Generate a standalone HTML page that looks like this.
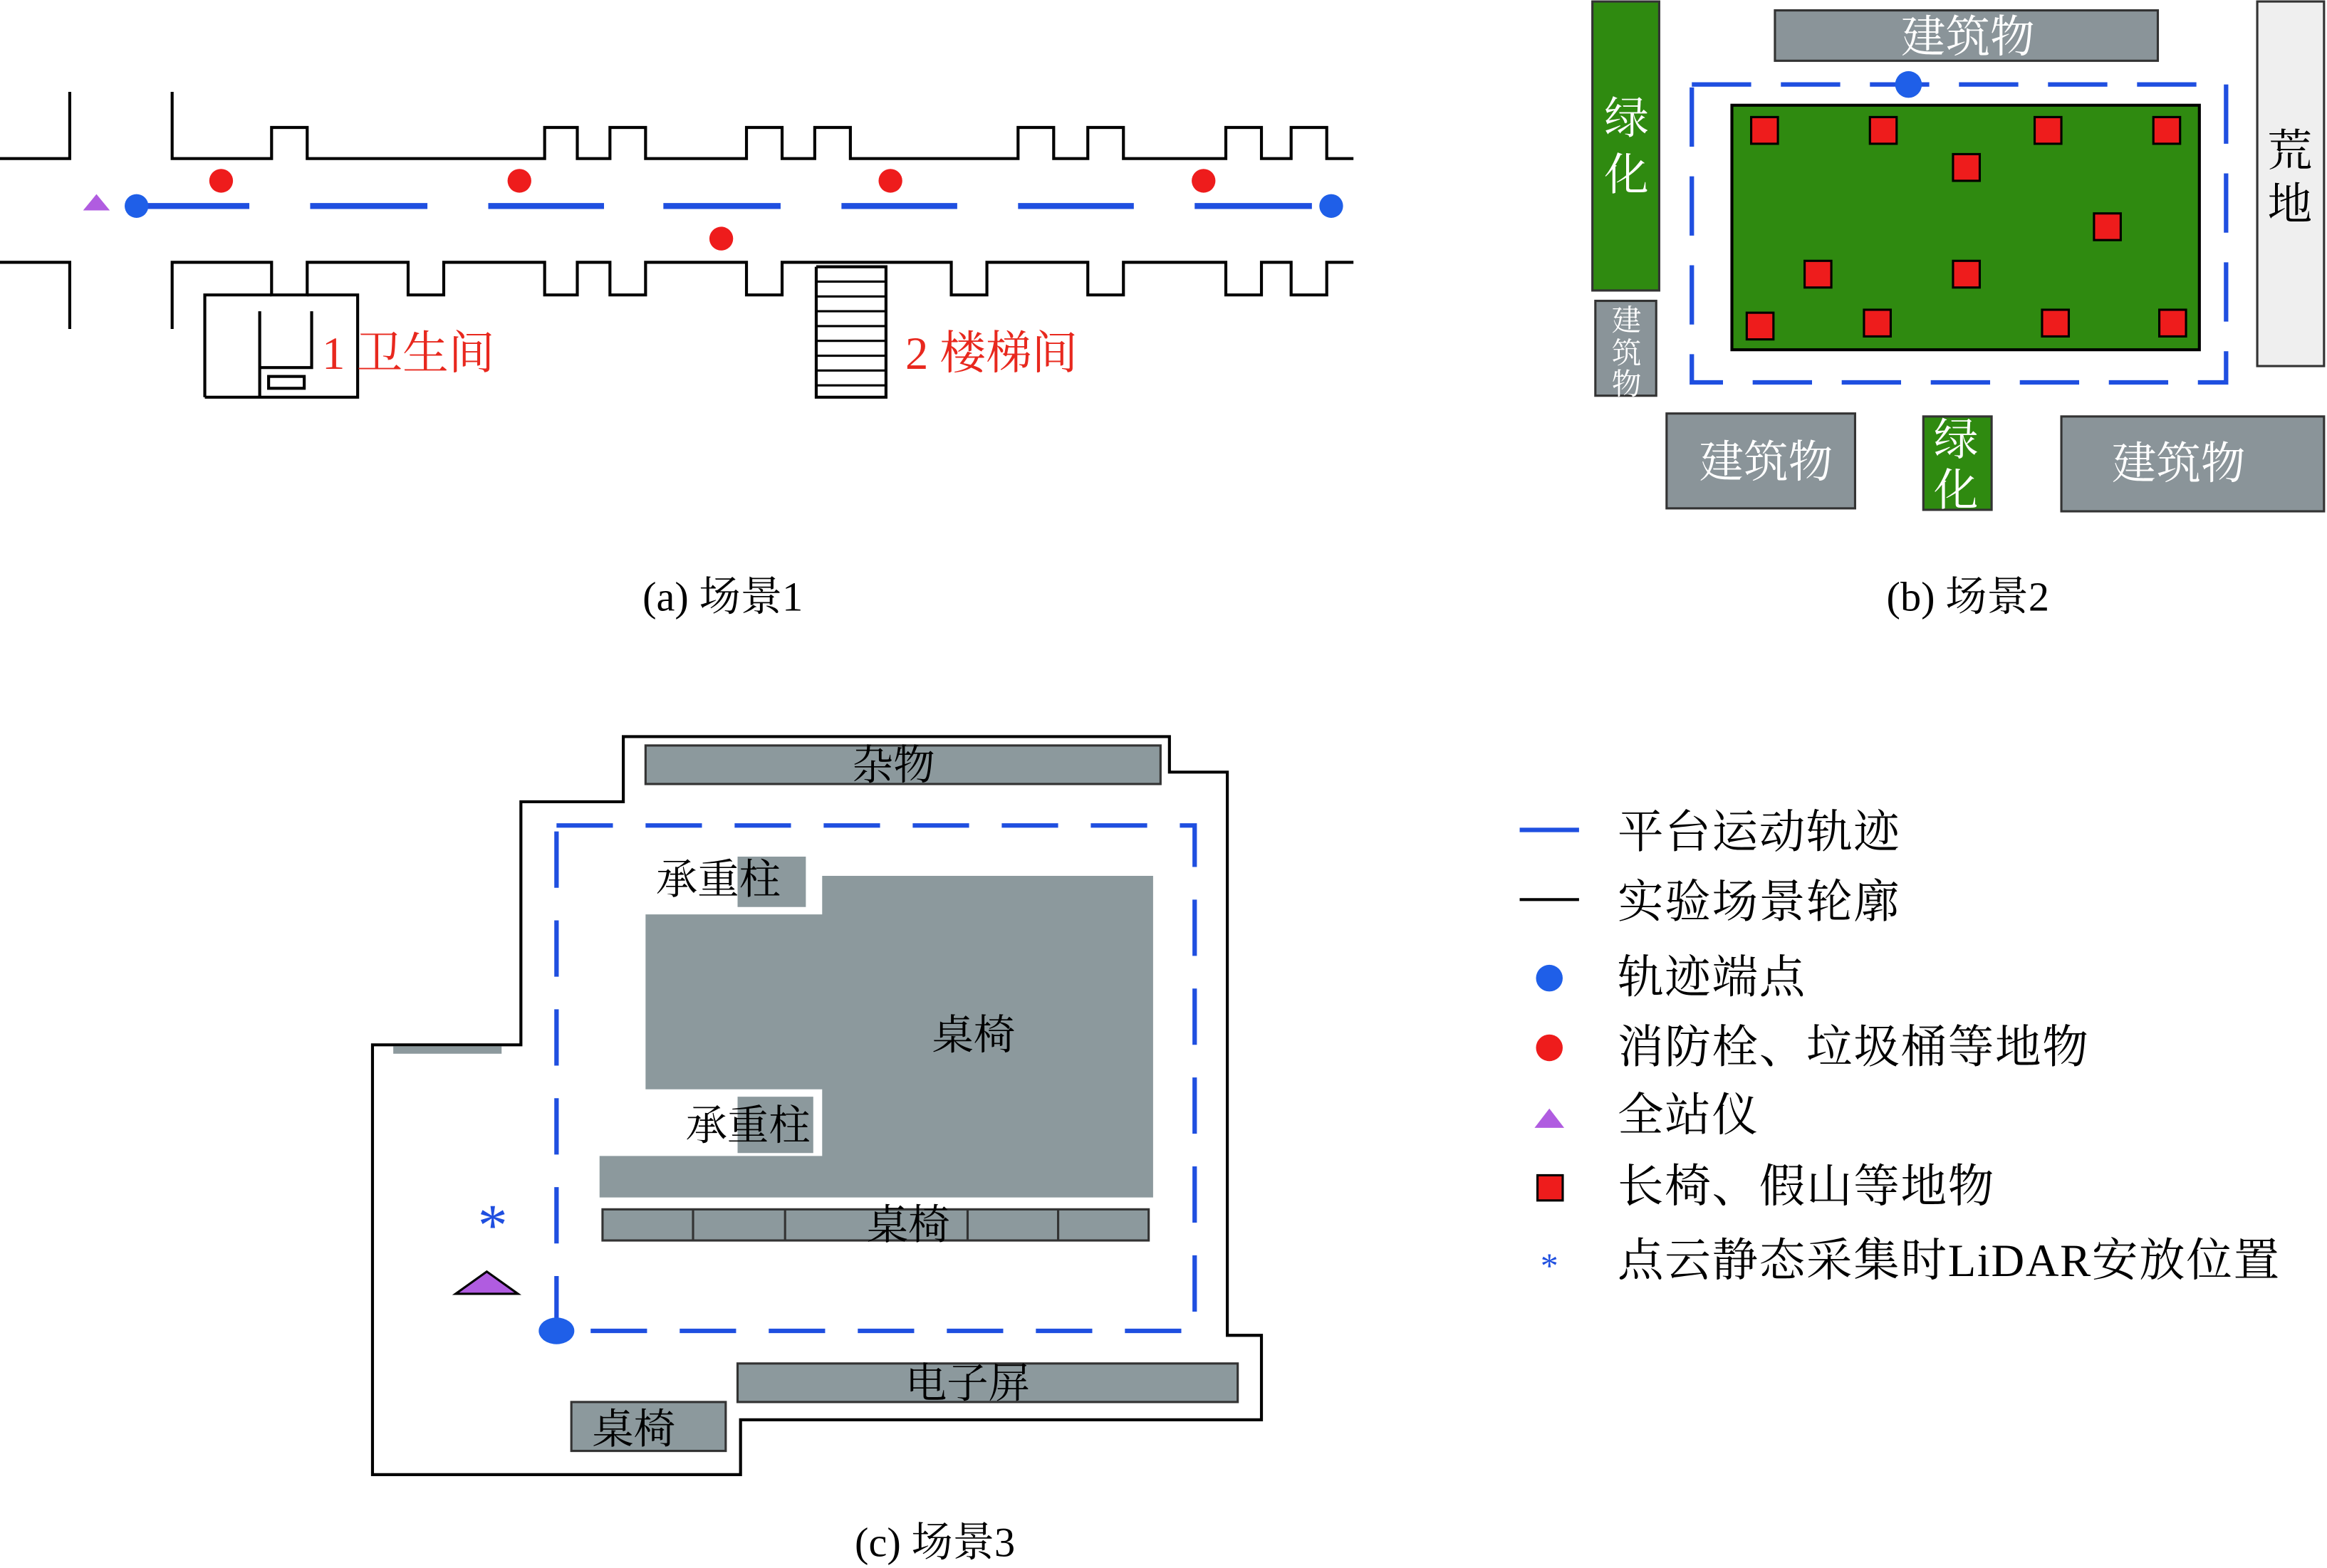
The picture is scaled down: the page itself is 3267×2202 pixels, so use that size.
<!DOCTYPE html>
<html><head><meta charset="utf-8"><style>
html,body{margin:0;padding:0;background:#fff;}
svg{display:block;}
text{font-family:"Liberation Serif","Noto Serif CJK SC","Noto Sans CJK SC",serif;}
</style></head><body>
<svg width="3267" height="2202" viewBox="0 0 1568 1058" preserveAspectRatio="none" xmlns="http://www.w3.org/2000/svg">
<rect width="1568" height="1058" fill="#fff"/>
<!-- Scene 1 -->
<g fill="none" stroke="#000" stroke-width="2">
<polyline points="0,107 47,107 47,62"/>
<polyline points="0,177 47,177 47,222"/>
<polyline points="116,62 116,107 183,107 183,86 207,86 207,107 367,107 367,86 389,86 389,107 411,107 411,86 435,86 435,107 503,107 503,86 527,86 527,107 549,107 549,86 573,86 573,107 686,107 686,86 710,86 710,107 733,107 733,86 757,86 757,107 826,107 826,86 850,86 850,107 870,107 870,86 894,86 894,107 912,107"/>
<polyline points="116,222 116,177 183,177 183,199 207,199 207,177 275,177 275,199 299,199 299,177 367,177 367,199 389,199 389,177 411,177 411,199 435,199 435,177 503,177 503,199 527,199 527,177 641,177 641,199 665,199 665,177 733,177 733,199 757,199 757,177 826,177 826,199 850,199 850,177 870,177 870,199 894,199 894,177 912,177"/>
<polyline points="138,268 138,199 183,199"/>
<polyline points="207,199 241,199 241,268 138,268"/>
<polyline points="175,210 175,268"/>
<polyline points="175,248 210,248 210,210"/>
<rect x="181" y="254" width="24" height="8"/>
<polyline points="550,180 550,268 597,268 597,180 550,180"/>
</g>
<g stroke="#000" stroke-width="1.5">
<line x1="550" y1="190" x2="597" y2="190"/><line x1="550" y1="200" x2="597" y2="200"/><line x1="550" y1="210" x2="597" y2="210"/><line x1="550" y1="220" x2="597" y2="220"/><line x1="550" y1="230" x2="597" y2="230"/><line x1="550" y1="240" x2="597" y2="240"/><line x1="550" y1="250" x2="597" y2="250"/><line x1="550" y1="260" x2="597" y2="260"/>
</g>
<g stroke="#1f4fe0" stroke-width="4">
<line x1="92" y1="139" x2="168" y2="139"/><line x1="209" y1="139" x2="288" y2="139"/><line x1="329" y1="139" x2="407" y2="139"/><line x1="447" y1="139" x2="526" y2="139"/><line x1="567" y1="139" x2="645" y2="139"/><line x1="686" y1="139" x2="764" y2="139"/><line x1="805" y1="139" x2="884" y2="139"/>
</g>
<circle cx="92" cy="139" r="8" fill="#1f5fe8"/><circle cx="897" cy="139" r="8" fill="#1f5fe8"/>
<g fill="#ee1c1c"><circle cx="149" cy="122" r="8"/><circle cx="350" cy="122" r="8"/><circle cx="600" cy="122" r="8"/><circle cx="811" cy="122" r="8"/><circle cx="486" cy="161" r="8"/></g>
<polygon points="56,142 74,142 65,131" fill="#b05ce0"/>
<text x="217" y="249" font-size="31" fill="#e8281e">1 卫生间</text>
<text x="610" y="249" font-size="31" fill="#e8281e">2 楼梯间</text>
<text x="487" y="412" font-size="28" text-anchor="middle">(a) 场景1</text>

<!-- Scene 2 -->
<g stroke="#333" stroke-width="1.5">
<rect x="1073" y="1" width="45" height="195" fill="#2f8a10"/>
<rect x="1075" y="203" width="41" height="64" fill="#8a9499"/>
<rect x="1196" y="7" width="258" height="34" fill="#8a9499"/>
<rect x="1521" y="1" width="45" height="246" fill="#efefef"/>
<rect x="1123" y="279" width="127" height="64" fill="#8a9499"/>
<rect x="1296" y="281" width="46" height="63" fill="#2f8a10"/>
<rect x="1389" y="281" width="177" height="64" fill="#8a9499"/>
<rect x="1167" y="71" width="315" height="165" fill="#2f8a10" stroke="#000" stroke-width="2"/>
</g>
<rect x="1140" y="57" width="360" height="201" fill="none" stroke="#1f4fe0" stroke-width="3" stroke-dasharray="40,20"/>
<circle cx="1286" cy="57" r="9" fill="#1f5fe8"/>
<g fill="#ee1c1c" stroke="#000" stroke-width="1.5">
<rect x="1180" y="79" width="18" height="18"/><rect x="1260" y="79" width="18" height="18"/><rect x="1371" y="79" width="18" height="18"/><rect x="1451" y="79" width="18" height="18"/>
<rect x="1316" y="104" width="18" height="18"/><rect x="1411" y="144" width="18" height="18"/><rect x="1216" y="176" width="18" height="18"/><rect x="1316" y="176" width="18" height="18"/>
<rect x="1177" y="211" width="18" height="18"/><rect x="1256" y="209" width="18" height="18"/><rect x="1376" y="209" width="18" height="18"/><rect x="1455" y="209" width="18" height="18"/>
</g>
<g fill="#fff" font-size="30" text-anchor="middle">
<text x="1096" y="90">绿</text><text x="1096" y="128">化</text>
<text x="1096" y="223" font-size="20">建</text><text x="1096" y="245" font-size="20">筑</text><text x="1096" y="266" font-size="20">物</text>
<text x="1326" y="35">建筑物</text>
<text x="1190" y="322">建筑物</text>
<text x="1468" y="323">建筑物</text>
<text x="1318" y="307">绿</text><text x="1318" y="341">化</text>
</g>
<g font-size="30" text-anchor="middle" fill="#000"><text x="1543" y="112">荒</text><text x="1543" y="148">地</text></g>
<text x="1326" y="412" font-size="28" text-anchor="middle">(b) 场景2</text>

<!-- Scene 3 -->
<polygon points="420,497 788,497 788,521 827,521 827,901 850,901 850,958 499,958 499,995 251,995 251,705 351,705 351,541 420,541" fill="none" stroke="#000" stroke-width="2"/>
<g fill="#8c999d" stroke="#333" stroke-width="1.5">
<rect x="435" y="503" width="347" height="26"/>
<rect x="497" y="920" width="337" height="26"/>
<rect x="385" y="946" width="104" height="33"/>
<rect x="406" y="816" width="368" height="21"/>
</g>
<rect x="265" y="706" width="73" height="5" fill="#8c999d"/>
<g stroke="#333" stroke-width="1.5"><line x1="467" y1="816" x2="467" y2="837"/><line x1="529" y1="816" x2="529" y2="837"/><line x1="652" y1="816" x2="652" y2="837"/><line x1="713" y1="816" x2="713" y2="837"/></g>
<polygon points="554,591 777,591 777,808 404,808 404,780 554,780 554,735 435,735 435,617 554,617" fill="#8c999d"/>
<rect x="497" y="578" width="46" height="34" fill="#8c999d"/>
<rect x="497" y="740" width="51" height="38" fill="#8c999d"/>
<rect x="375" y="557" width="430" height="341" fill="none" stroke="#1f4fe0" stroke-width="3" stroke-dasharray="38,22"/>
<ellipse cx="375" cy="898" rx="12" ry="9" fill="#1f5fe8"/>
<text x="332" y="840" font-size="40" fill="#1f4fe0" text-anchor="middle" font-family="Liberation Sans">*</text>
<polygon points="307,873 349,873 328,858" fill="#b05ce0" stroke="#000" stroke-width="1.5"/>
<g font-size="28" fill="#000" text-anchor="middle">
<text x="602" y="526">杂物</text>
<text x="484" y="603">承重柱</text>
<text x="504" y="769">承重柱</text>
<text x="656" y="708">桌椅</text>
<text x="612" y="836">桌椅</text>
<text x="652" y="943">电子屏</text>
<text x="427" y="974">桌椅</text>
</g>
<text x="630" y="1050" font-size="28" text-anchor="middle">(c) 场景3</text>

<!-- Legend -->
<line x1="1024" y1="560" x2="1064" y2="560" stroke="#1f4fe0" stroke-width="3"/>
<line x1="1024" y1="607" x2="1064" y2="607" stroke="#000" stroke-width="2"/>
<circle cx="1044" cy="660" r="9" fill="#1f5fe8"/>
<circle cx="1044" cy="707" r="9" fill="#ee1c1c"/>
<polygon points="1034,761 1054,761 1044,748" fill="#b05ce0"/>
<rect x="1036" y="793" width="17" height="17" fill="#ee1c1c" stroke="#000" stroke-width="1.5"/>
<text x="1044" y="862" font-size="24" fill="#1f4fe0" text-anchor="middle" font-family="Liberation Sans">*</text>
<g font-size="31" fill="#000" letter-spacing="0.8">
<text x="1090" y="572">平台运动轨迹</text>
<text x="1090" y="619">实验场景轮廓</text>
<text x="1090" y="670">轨迹端点</text>
<text x="1090" y="717">消防栓、垃圾桶等地物</text>
<text x="1090" y="763">全站仪</text>
<text x="1090" y="811">长椅、假山等地物</text>
<text x="1090" y="861">点云静态采集时LiDAR安放位置</text>
</g>
</svg>
</body></html>
